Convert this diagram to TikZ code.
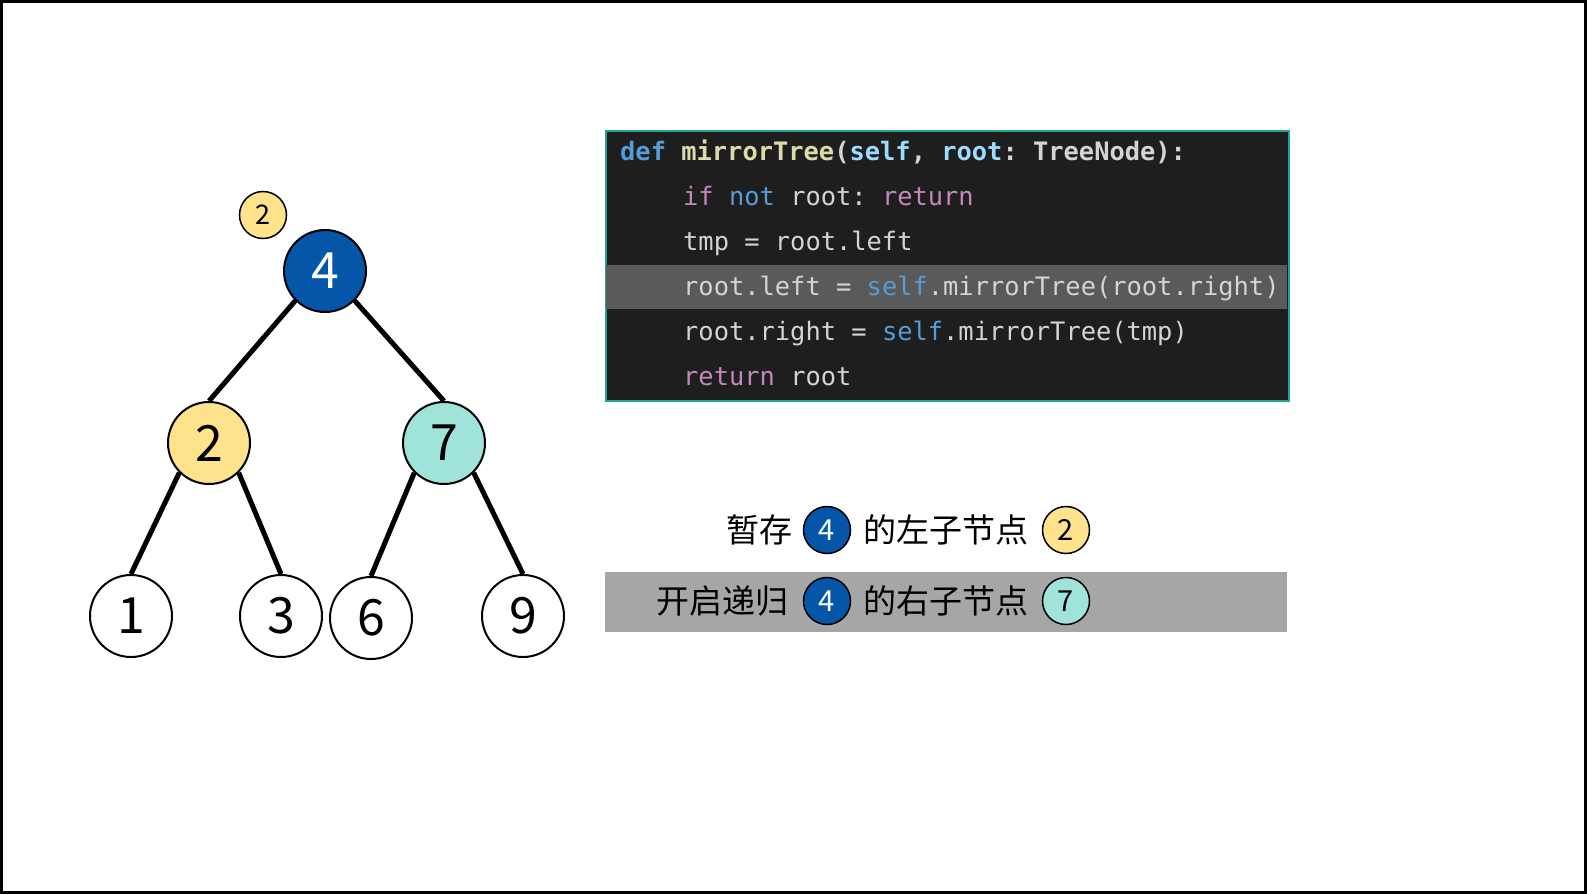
\documentclass[tikz,border=0pt]{standalone}
\usepackage{fontspec}
\setmainfont{Noto Sans CJK SC}
\setmonofont{DejaVu Sans Mono}
\newfontfamily\cjk{Noto Sans CJK SC}
\definecolor{rootblue}{HTML}{0556A8}
\definecolor{ylw}{HTML}{FEE38C}
\definecolor{tealc}{HTML}{9FE3DA}
\definecolor{codebg}{HTML}{1E1E1E}
\definecolor{codeborder}{HTML}{23A393}
\definecolor{hlrow}{HTML}{5A5A5A}
\definecolor{graybar}{HTML}{A6A6A6}
\definecolor{kwblue}{HTML}{569CD6}
\definecolor{fnyel}{HTML}{DCDCAA}
\definecolor{prm}{HTML}{9CDCFE}
\definecolor{kwpink}{HTML}{C586C0}
\definecolor{plain}{HTML}{D4D4D4}
\begin{document}
\begin{tikzpicture}[x=1pt,y=-1pt,
  tn/.style={circle,draw=black,line width=2pt,minimum size=82pt,inner sep=0pt,font=\cjk\fontsize{50}{60}\selectfont},
  sm/.style={circle,draw=black,line width=1.5pt,minimum size=47pt,inner sep=0pt,font=\cjk\fontsize{27}{32}\selectfont},
  smb/.style={sm,font=\cjk\fontsize{29}{34}\selectfont},
  edge/.style={line width=5pt,black},
  codeline/.style={anchor=base west,inner sep=0pt,text=plain,font=\ttfamily\fontsize{25.4}{30}\selectfont},
  cjkt/.style={anchor=base west,inner sep=0pt,font=\cjk\fontsize{33}{39}\selectfont}]
\useasboundingbox (0,0) rectangle (1587,894);
\fill[white] (0,0) rectangle (1587,894);
\draw[line width=3pt] (1.5,1.5) rectangle (1585.5,892.5);

% tree
\node[tn,fill=rootblue,text=white] (n4) at (325,271) {4};
\node[tn,fill=ylw] (n2) at (209,443) {2};
\node[tn,fill=tealc] (n7) at (444,443) {7};
\node[tn,fill=white] (n1) at (131,616) {1};
\node[tn,fill=white] (n3) at (281,616) {3};
\node[tn,fill=white] (n6) at (371,618) {6};
\node[tn,fill=white] (n9) at (523,616) {9};
\node[sm,fill=ylw] (s2) at (263,215) {2};
\draw[edge] (n4.south west) -- (n2.north);
\draw[edge] (n4.south east) -- (n7.north);
\draw[edge] (n2.south west) -- (n1.north);
\draw[edge] (n2.south east) -- (n3.north);
\draw[edge] (n7.south west) -- (n6.north);
\draw[edge] (n7.south east) -- (n9.north);

% code box
\node[draw=codeborder,fill=codebg,line width=2pt,minimum width=683pt,minimum height=270.5pt,anchor=north west,inner sep=0pt] (code) at (605,129.5) {};
\fill[hlrow] (606,265) rectangle (1287,309);
\node[codeline,font=\ttfamily\bfseries\fontsize{25.4}{30}\selectfont] (c1) at (620,160) {\textcolor{kwblue}{def} \textcolor{fnyel}{mirrorTree}(\textcolor{prm}{self}, \textcolor{prm}{root}: TreeNode):};
\node[codeline] (c2) at (683,205) {\textcolor{kwpink}{if} \textcolor{kwblue}{not} root: \textcolor{kwpink}{return}};
\node[codeline] (c3) at (683,250) {tmp = root.left};
\node[codeline] (c4) at (683,295) {root.left = \textcolor{kwblue}{self}.mirrorTree(root.right)};
\node[codeline] (c5) at (683,340) {root.right = \textcolor{kwblue}{self}.mirrorTree(tmp)};
\node[codeline] (c6) at (683,385) {\textcolor{kwpink}{return} root};

% explanation rows
\fill[graybar] (605,572) rectangle (1287,631.5);
\node[cjkt] (t1) at (726,542) {暂存};
\node[smb,fill=rootblue,text=white] (b1) at (827,530) {4};
\node[cjkt] (t2) at (863,542) {的左子节点};
\node[smb,fill=ylw] (b2) at (1066,530) {2};
\node[cjkt] (t3) at (656,613) {开启递归};
\node[smb,fill=rootblue,text=white] (b3) at (827,601) {4};
\node[cjkt] (t4) at (863,613) {的右子节点};
\node[smb,fill=tealc] (b4) at (1066,601) {7};
\end{tikzpicture}
\end{document}
